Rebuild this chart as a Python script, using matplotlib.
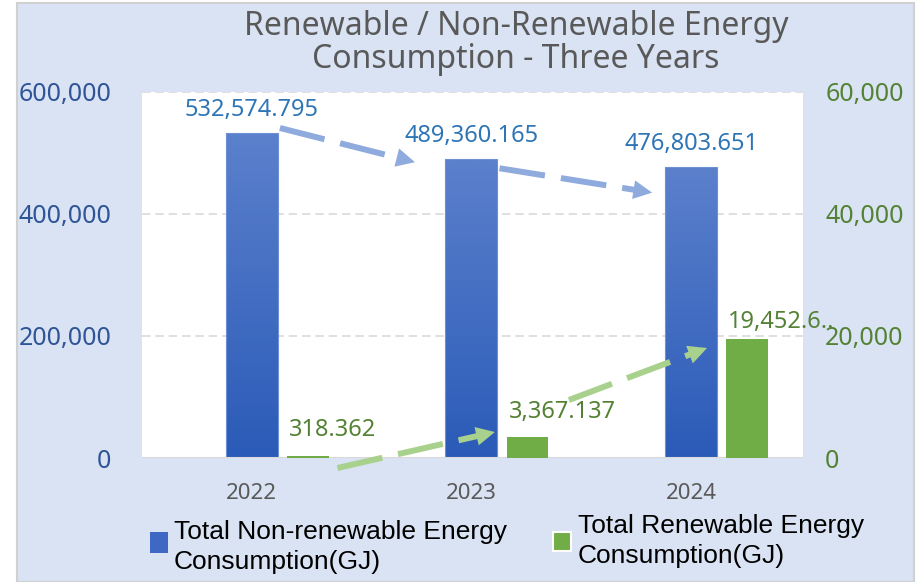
import numpy as np
import matplotlib
matplotlib.use('Agg')
import matplotlib.pyplot as plt
from matplotlib.patches import Rectangle
from matplotlib.colors import LinearSegmentedColormap

years = ['2022', '2023', '2024']
non_renewable = [532574.795, 489360.165, 476803.651]
renewable = [318.362, 3367.137, 19452.6]
non_renewable_labels = ['532,574.795', '489,360.165', '476,803.651']
renewable_labels = ['318.362', '3,367.137', '19,452.6..']

left_ticks = [0, 200000, 400000, 600000]
right_ticks = [0, 20000, 40000, 60000]

W, H = 921, 582
BG = '#dae3f3'
BLUE_TXT = '#2e75b6'
BLUE_AX = '#2f5597'
GREEN_TXT = '#548235'
GREEN = '#70ad47'

plt.rcParams['font.family'] = ['Noto Sans', 'DejaVu Sans']

fig = plt.figure(figsize=(W / 100, H / 100), dpi=100)
fig.patch.set_facecolor('white')

# panel with thin gray border
fig.patches.append(Rectangle((17 / W, 0), (914 - 17) / W, (H - 3) / H,
                             transform=fig.transFigure, facecolor=BG,
                             edgecolor='#d0d0d0', lw=1.5, zorder=-5))


def px(x0, y0, x1, y1):
    return [x0 / W, 1 - y1 / H, (x1 - x0) / W, (y1 - y0) / H]


ax = fig.add_axes(px(142, 92, 803, 458))
ax.set_facecolor('white')
ax2 = ax.twinx()

x = np.arange(len(years))
bw_blue = 0.236
bw_green = 0.19
green_shift = 0.255

ax.set_xlim(-0.5, 2.51)
ax.set_ylim(0, 600000)
ax2.set_ylim(0, 60000)

# gradient blue bars
grad = LinearSegmentedColormap.from_list('bluegrad', ['#2b5bb8', '#5b80cc'])
for xi, v in zip(x, non_renewable):
    ax.imshow(np.linspace(0, 1, 100).reshape(-1, 1), cmap=grad, origin='lower',
              extent=[xi - bw_blue / 2, xi + bw_blue / 2, 0, v],
              aspect='auto', zorder=3)
    ax.add_patch(Rectangle((xi - bw_blue / 2, 0), bw_blue, v, fill=False,
                           edgecolor='#6d8fd4', lw=0.8, zorder=4))
ax.set_xlim(-0.5, 2.51)
ax.set_ylim(0, 600000)

ax2.bar(x + green_shift, renewable, width=bw_green, color=GREEN, zorder=3)

# grid and axes
for t in left_ticks[1:]:
    ax.axhline(t, color='#d9d9d9', lw=1.2, ls=(0, (5, 3)), zorder=1)
ax.axhline(0, color='#d9d9d9', lw=1.5, zorder=5)
for a in (ax, ax2):
    for s in a.spines.values():
        s.set_visible(False)
    a.tick_params(length=0)

ax.set_xticks(x)
ax.set_xticklabels(years, fontsize=16, color='#595959')
ax.tick_params(axis='x', pad=18)
ax.set_yticks(left_ticks)
ax.set_yticklabels([f'{t:,}' for t in left_ticks], fontsize=18, color=BLUE_AX)
ax.tick_params(axis='y', pad=22)
ax2.set_yticks(right_ticks)
ax2.set_yticklabels([f'{t:,}' for t in right_ticks], fontsize=18, color=GREEN_TXT)
ax2.tick_params(axis='y', pad=16)

# value labels
for xi, v, lab in zip(x, non_renewable, non_renewable_labels):
    ax.annotate(lab, (xi, v), xytext=(0, 8), textcoords='offset points',
                ha='center', va='bottom', fontsize=17, color=BLUE_TXT, zorder=6)
green_label_dy = [10, 10, 4]
for xi, v, lab, dy in zip(x, renewable, renewable_labels, green_label_dy):
    ax2.annotate(lab, (xi + 0.17, v), xytext=(0, dy), textcoords='offset points',
                 ha='left', va='bottom', fontsize=17, color=GREEN_TXT,
                 annotation_clip=False, zorder=6)


def dashed_arrow(a, p0, p1, color):
    # dashed shaft plus a solid triangular head, measured in pixels
    t = a.transData
    d0 = np.array(t.transform(p0))
    d1 = np.array(t.transform(p1))
    u = (d1 - d0) / np.linalg.norm(d1 - d0)
    head = 18
    base = d1 - u * head
    b = t.inverted().transform(base)
    a.plot([p0[0], b[0]], [p0[1], b[1]], color=color, lw=4.3,
           ls=(0, (7.7, 2.7)), solid_capstyle='butt', dash_capstyle='butt',
           clip_on=False, zorder=7)
    a.annotate('', xy=p1, xytext=t.inverted().transform(base - u * 1),
               arrowprops=dict(arrowstyle='-|>,head_length=0.9,head_width=0.45',
                               mutation_scale=15, color=color, lw=0,
                               shrinkA=0, shrinkB=0),
               annotation_clip=False, zorder=7)


# trend arrows between consecutive years (offsets relative to bar values)
blue_arrow_dy = [(8400, -4400), (-14400, -41800)]
for i, (dy0, dy1) in enumerate(blue_arrow_dy):
    dashed_arrow(ax, (i + 0.128, non_renewable[i] + dy0),
                 (i + 0.743 + 0.08 * i, non_renewable[i + 1] + dy1), '#8faadc')

green_arrow_dy = [(-1960, 895), (6141, -1419)]
green_arrow_x = [(0.39, 1.107), (1.444, 2.073)]
for i, ((dy0, dy1), (xa, xb)) in enumerate(zip(green_arrow_dy, green_arrow_x)):
    dashed_arrow(ax2, (xa, renewable[i] + dy0), (xb, renewable[i + 1] + dy1), '#a9d18e')

fig.text(516 / W, 1 - 43 / H,
         'Renewable / Non-Renewable Energy\nConsumption - Three Years',
         ha='center', va='center', fontsize=23, color='#595959', linespacing=1.0)

# legend
leg_font = ['Liberation Sans', 'DejaVu Sans']
fig.patches.append(Rectangle((150 / W, 1 - 553 / H), 18 / W, 21 / H,
                             transform=fig.transFigure, facecolor='#3f68c4',
                             edgecolor='none'))
fig.text(174 / W, 1 - 547 / H, 'Total Non-renewable Energy\nConsumption(GJ)',
         ha='left', va='center', fontsize=19, family=leg_font, color='black',
         linespacing=1.3)
fig.patches.append(Rectangle((553 / W, 1 - 551 / H), 18 / W, 19 / H,
                             transform=fig.transFigure, facecolor=GREEN,
                             edgecolor='white', lw=1.5))
fig.text(578 / W, 1 - 541 / H, 'Total Renewable Energy\nConsumption(GJ)',
         ha='left', va='center', fontsize=19, family=leg_font, color='black',
         linespacing=1.3)

fig.savefig('out.png', dpi=100, facecolor=fig.get_facecolor())
